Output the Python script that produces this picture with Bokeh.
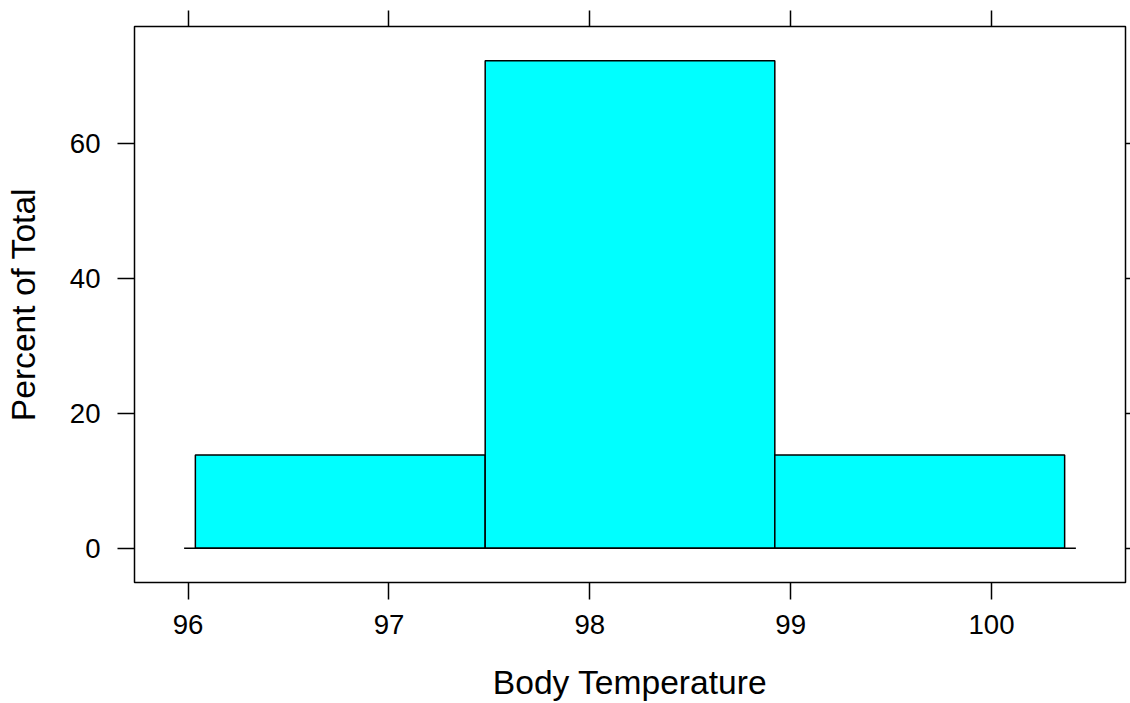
from bokeh.plotting import figure
from bokeh.models import LinearAxis, FixedTicker, Range1d
from bokeh.embed import file_html
from bokeh.resources import INLINE

# Data
bin_left = [96.036, 97.479, 98.921]
bin_right = [97.479, 98.921, 100.364]
percent = [13.85, 72.31, 13.85]
baseline_x = [95.98, 100.42]
x_ticks = [96, 97, 98, 99, 100]
y_ticks = [0, 20, 40, 60]
x_label = "Body Temperature"
y_label = "Percent of Total"

FONT = "Liberation Sans"
TICK_FS = "27.6px"
LAB_FS = "33.6px"

p = figure(width=1130, height=703, output_backend="svg", toolbar_location=None,
           x_range=Range1d(95.733, 100.667), y_range=Range1d(-5.06, 77.37),
           x_axis_location=None, y_axis_location=None,
           min_border_left=134, min_border_right=5, min_border_top=26, min_border_bottom=119)
p.grid.visible = False
p.outline_line_color = "black"
p.outline_line_width = 1.5
p.background_fill_color = "white"
p.border_fill_color = "white"

p.quad(left=bin_left, right=bin_right, bottom=0, top=percent,
       fill_color="#00FFFF", line_color="black", line_width=1.5)
p.line(x=baseline_x, y=[0, 0], line_color="black", line_width=1.5)

def style(ax, labels=True):
    ax.axis_line_color = None
    ax.major_tick_in = 0
    ax.minor_tick_line_color = None
    ax.major_tick_line_color = "black"
    ax.major_tick_line_width = 1.5
    ax.major_label_text_font = FONT
    ax.major_label_text_color = "black"
    ax.axis_label_text_font = FONT
    ax.axis_label_text_font_style = "normal"
    ax.axis_label_text_font_size = LAB_FS
    ax.axis_label_text_color = "black"
    if labels:
        ax.major_label_text_font_size = TICK_FS
    else:
        ax.major_label_overrides = {t: "" for t in ax.ticker.ticks}
        ax.major_label_text_font_size = "1px"
        ax.major_label_standoff = 0

bottom = LinearAxis(ticker=FixedTicker(ticks=x_ticks), axis_label=x_label)
style(bottom)
bottom.major_tick_out = 17
bottom.major_label_standoff = 15
bottom.axis_label_standoff = 27
p.add_layout(bottom, "below")

left = LinearAxis(ticker=FixedTicker(ticks=y_ticks), axis_label=y_label)
style(left)
left.major_tick_out = 17
left.major_label_standoff = 17
left.axis_label_standoff = 25
p.add_layout(left, "left")

top = LinearAxis(ticker=FixedTicker(ticks=x_ticks))
style(top, labels=False)
top.major_tick_out = 16
p.add_layout(top, "above")

right = LinearAxis(ticker=FixedTicker(ticks=y_ticks))
style(right, labels=False)
right.major_tick_out = 5
p.add_layout(right, "right")

open("out.html", "w").write(file_html(p, INLINE))
